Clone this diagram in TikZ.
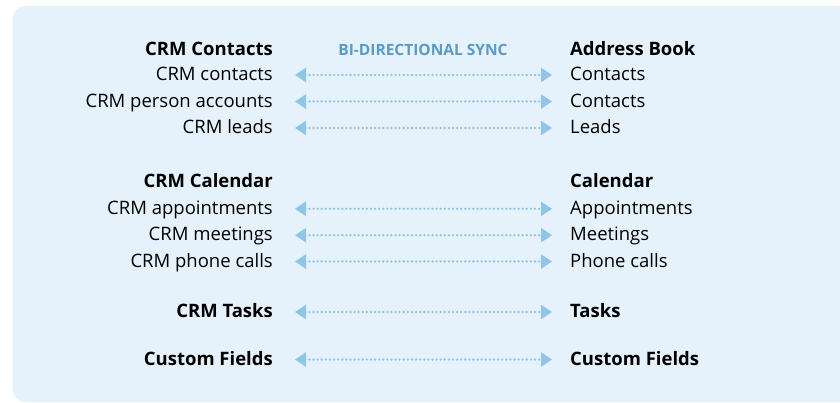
\documentclass[tikz,border=0pt]{standalone}
\usepackage{fontspec}
\setmainfont{Open Sans}
\usetikzlibrary{arrows.meta}
\definecolor{panelbg}{HTML}{E6F2FB}
\definecolor{syncline}{HTML}{8EC5E8}
\definecolor{synchead}{HTML}{5A9BC3}

\begin{document}
\begin{tikzpicture}[x=1pt,y=-1pt,
    crm/.style={anchor=east,inner sep=0pt,text height=13pt,text depth=2pt,
      font=\fontsize{18.5}{22}\selectfont},
    book/.style={crm,anchor=west},
    group/.style={font=\fontsize{18.5}{22}\selectfont\bfseries},
    sync/.style={syncline,line width=2.6pt,line cap=round,
      dash pattern=on 0pt off 4.1pt,
      {Triangle[length=11pt,width=14pt]}-{Triangle[length=11pt,width=14pt]},
      shorten <=22pt,shorten >=18pt}]
  \useasboundingbox (0,0) rectangle (840,402);
  \fill[panelbg,rounded corners=12pt] (13,6) rectangle (860,402);

  \node[font=\fontsize{15.5}{18}\selectfont\bfseries,text=synchead,inner sep=0pt]
    (synctitle) at (423,49.5){BI-DIRECTIONAL SYNC};

  % contacts
  \node[crm,group](lcontacts) at (273,49.5){CRM Contacts};
  \node[book,group](rcontacts) at (570,49.5){Address Book};
  \node[crm](l1) at (273,75){CRM contacts};
  \node[book](r1) at (570,75){Contacts};
  \node[crm](l2) at (273,101.5){CRM person accounts};
  \node[book](r2) at (570,101.5){Contacts};
  \node[crm](l3) at (273,128){CRM leads};
  \node[book](r3) at (570,128){Leads};

  % calendar
  \node[crm,group](lcalendar) at (273,182){CRM Calendar};
  \node[book,group](rcalendar) at (570,182){Calendar};
  \node[crm](l4) at (273,208.8){CRM appointments};
  \node[book](r4) at (570,208.8){Appointments};
  \node[crm](l5) at (273,235.2){CRM meetings};
  \node[book](r5) at (570,235.2){Meetings};
  \node[crm](l6) at (273,261.5){CRM phone calls};
  \node[book](r6) at (570,261.5){Phone calls};

  % tasks and fields
  \node[crm,group](l7) at (273,312){CRM Tasks};
  \node[book,group](r7) at (570,312){Tasks};
  \node[crm,group](l8) at (273,359.5){Custom Fields};
  \node[book,group](r8) at (570,359.5){Custom Fields};

  \foreach \i in {1,...,8}
    \draw[sync] (l\i.east) -- (r\i.west);
\end{tikzpicture}
\end{document}
